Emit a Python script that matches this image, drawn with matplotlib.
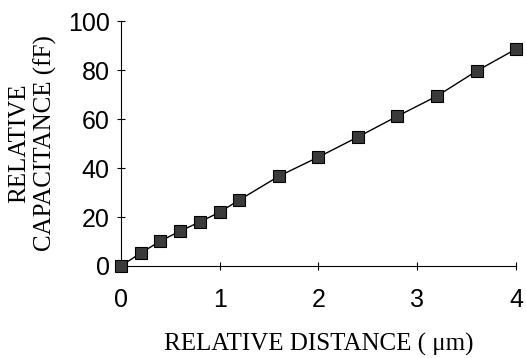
import numpy as np
import matplotlib
matplotlib.use('Agg')
import matplotlib.pyplot as plt

# relative distance (um) vs relative capacitance (fF)
distance = [0, 0.2, 0.4, 0.6, 0.8, 1.0, 1.2, 1.6, 2.0, 2.4, 2.8, 3.2, 3.6, 4.0]
capacitance = [0, 5.3, 10.2, 14.3, 18, 22, 27, 36.7, 44.5, 52.7, 61.2, 69.4, 79.6, 88.6]
xticks = [0, 1, 2, 3, 4]
yticks = [0, 20, 40, 60, 80, 100]

fig = plt.figure(figsize=(5.26, 3.58), dpi=100)
ax = fig.add_axes([0.230, 0.257, 0.751, 0.684])

ax.plot(distance, capacitance, color='black', lw=1.0, marker='s', markersize=8.5,
        markerfacecolor='#3a3a3a', markeredgecolor='black', markeredgewidth=0.8,
        clip_on=False, zorder=3)

ax.set_xlim(0, 4)
ax.set_ylim(0, 100)
ax.set_xticks(xticks)
ax.set_yticks(yticks)
ax.spines['top'].set_visible(False)
ax.spines['right'].set_visible(False)
ax.tick_params(direction='inout', length=6, width=0.8, labelsize=18)
ax.tick_params(axis='x', pad=13)
ax.tick_params(axis='y', pad=5)
for lab in ax.get_xticklabels() + ax.get_yticklabels():
    lab.set_family('Liberation Sans')

ax.set_xlabel('RELATIVE DISTANCE ( \u03bcm)', family='Liberation Serif', fontsize=18)
ax.set_ylabel('RELATIVE\nCAPACITANCE (fF)', family='Liberation Serif', fontsize=18,
              linespacing=1.2)
ax.xaxis.set_label_coords(0.5, -0.275)
ax.yaxis.set_label_coords(-0.162, 0.5)

fig.savefig('out.png', dpi=100)
